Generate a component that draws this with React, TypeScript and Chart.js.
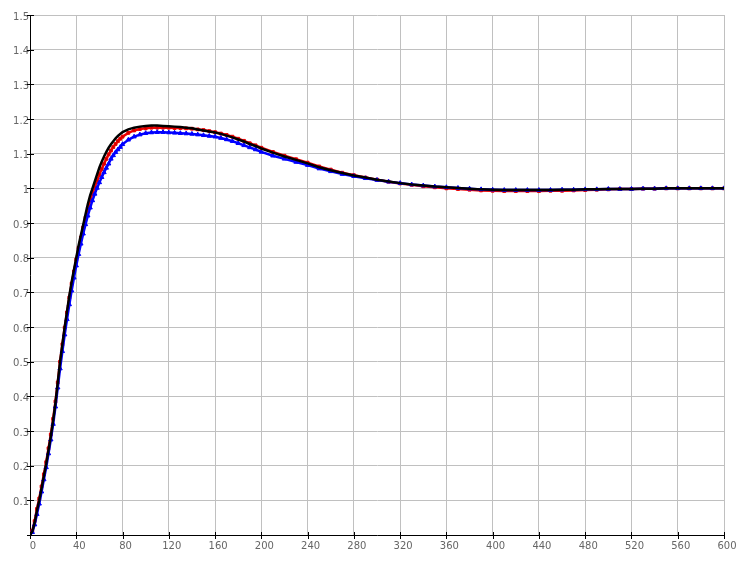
import React, { useEffect, useRef } from "react";
import { Chart, registerables } from "chart.js";

Chart.register(...registerables);

const xValues = [
  0, 2, 4, 6, 8, 10, 12, 14, 16, 18, 20, 22, 24, 26, 28, 30, 32, 34, 36, 38, 40,
  42, 44, 46, 48, 50, 52, 54, 56, 58, 60, 62, 64, 66, 68, 70, 72, 74, 76, 78, 80,
  85, 90, 95, 100, 105, 110, 115, 120, 125, 130, 135, 140, 145, 150, 155, 160,
  165, 170, 175, 180, 185, 190, 195, 200, 210, 220, 230, 240, 250, 260, 270, 280,
  290, 300, 310, 320, 330, 340, 350, 360, 370, 380, 390, 400, 410, 420, 430, 440,
  450, 460, 470, 480, 490, 500, 510, 520, 530, 540, 550, 560, 570, 580, 590, 600,
];

const blackValues = [
  0, 0.01, 0.035, 0.07, 0.1, 0.135, 0.17, 0.205, 0.245, 0.285, 0.33, 0.38, 0.44,
  0.5, 0.55, 0.6, 0.645, 0.69, 0.73, 0.765, 0.8, 0.835, 0.865, 0.895, 0.925,
  0.955, 0.98, 1.0, 1.02, 1.04, 1.06, 1.077, 1.092, 1.105, 1.117, 1.127, 1.136,
  1.144, 1.151, 1.157, 1.162, 1.17, 1.175, 1.178, 1.18, 1.181, 1.181, 1.18,
  1.179, 1.178, 1.177, 1.175, 1.173, 1.17, 1.167, 1.164, 1.161, 1.157, 1.152,
  1.147, 1.141, 1.135, 1.128, 1.122, 1.115, 1.103, 1.092, 1.082, 1.072, 1.061,
  1.052, 1.044, 1.037, 1.031, 1.025, 1.02, 1.015, 1.011, 1.008, 1.005, 1.003,
  1.001, 0.999, 0.997, 0.996, 0.995, 0.995, 0.995, 0.995, 0.995, 0.996, 0.996,
  0.997, 0.997, 0.998, 0.998, 0.998, 0.999, 0.999, 1.0, 1.0, 1.0, 1.0, 1.0, 1.0,
];

const redValues = [
  0, 0.012, 0.04, 0.075, 0.105, 0.14, 0.175, 0.21, 0.25, 0.29, 0.335, 0.385,
  0.44, 0.5, 0.55, 0.598, 0.642, 0.685, 0.725, 0.76, 0.795, 0.828, 0.858, 0.887,
  0.915, 0.942, 0.965, 0.985, 1.004, 1.022, 1.04, 1.056, 1.071, 1.085, 1.098,
  1.109, 1.119, 1.128, 1.136, 1.143, 1.149, 1.16, 1.167, 1.171, 1.173, 1.175,
  1.175, 1.175, 1.175, 1.174, 1.174, 1.173, 1.172, 1.17, 1.168, 1.165, 1.162,
  1.158, 1.154, 1.149, 1.143, 1.137, 1.13, 1.124, 1.117, 1.105, 1.094, 1.084,
  1.074, 1.063, 1.054, 1.045, 1.038, 1.031, 1.025, 1.019, 1.014, 1.01, 1.006,
  1.003, 1.0, 0.998, 0.996, 0.994, 0.993, 0.992, 0.992, 0.992, 0.992, 0.993,
  0.993, 0.994, 0.995, 0.996, 0.997, 0.998, 0.998, 0.999, 0.999, 1.0, 1.0, 1.0,
  1.0, 1.0, 1.0,
];

const blueValues = [
  0, 0.008, 0.03, 0.06, 0.09, 0.125, 0.16, 0.195, 0.235, 0.275, 0.32, 0.37,
  0.425, 0.48, 0.53, 0.578, 0.622, 0.665, 0.705, 0.742, 0.777, 0.81, 0.84, 0.869,
  0.896, 0.921, 0.944, 0.965, 0.984, 1.001, 1.017, 1.032, 1.046, 1.059, 1.071,
  1.085, 1.095, 1.104, 1.112, 1.119, 1.127, 1.14, 1.149, 1.155, 1.159, 1.161,
  1.162, 1.162, 1.161, 1.16, 1.159, 1.158, 1.157, 1.155, 1.153, 1.151, 1.149,
  1.145, 1.141, 1.136, 1.13, 1.124, 1.118, 1.112, 1.105, 1.094, 1.085, 1.076,
  1.067, 1.057, 1.049, 1.041, 1.035, 1.029, 1.024, 1.019, 1.015, 1.011, 1.008,
  1.005, 1.003, 1.001, 0.999, 0.997, 0.996, 0.995, 0.995, 0.995, 0.995, 0.995,
  0.996, 0.996, 0.997, 0.997, 0.998, 0.998, 0.998, 0.999, 0.999, 1.0, 1.0, 1.0,
  1.0, 1.0, 1.0,
];

const xTickStep = 40;
const yTickStep = 0.1;

const toPoints = (ys: number[]) => xValues.map((x, i) => ({ x, y: ys[i] }));

const axisTicksPlugin = {
  id: "axisTicks",
  afterDraw(chart: any) {
    const ctx = chart.ctx;
    const xs = chart.scales.x;
    const ys = chart.scales.y;
    ctx.save();
    ctx.strokeStyle = "#000";
    ctx.lineWidth = 1;
    ctx.beginPath();
    ys.ticks.forEach((t: any) => {
      const py = Math.round(ys.getPixelForValue(t.value)) + 0.5;
      ctx.moveTo(ys.right - 3, py);
      ctx.lineTo(ys.right + 4, py);
    });
    xs.ticks.forEach((t: any) => {
      const px = Math.round(xs.getPixelForValue(t.value)) + 0.5;
      ctx.moveTo(px, xs.top - 3);
      ctx.lineTo(px, xs.top + 4);
    });
    ctx.stroke();
    ctx.restore();
  },
};

export default function App() {
  const ref = useRef<HTMLCanvasElement | null>(null);
  useEffect(() => {
    if (!ref.current) return;
    const chart = new Chart(ref.current, {
      type: "line",
      data: {
        datasets: [
          {
            label: "black",
            data: toPoints(blackValues),
            borderColor: "#000000",
            backgroundColor: "#000000",
            borderWidth: 2.5,
            pointRadius: 0,
            tension: 0,
          },
          {
            label: "blue",
            data: toPoints(blueValues),
            borderColor: "#0000ff",
            backgroundColor: "#0000ff",
            borderWidth: 2.5,
            pointStyle: "triangle",
            pointRadius: 2.5,
            pointBorderWidth: 1,
            tension: 0,
          },
          {
            label: "red",
            data: toPoints(redValues),
            borderColor: "#ee0000",
            backgroundColor: "#cc0000",
            borderWidth: 2.5,
            pointStyle: "rect",
            pointRadius: 2,
            pointBorderWidth: 1,
            tension: 0,
          },
        ],
      },
      options: {
        animation: false,
        responsive: false,
        maintainAspectRatio: false,
        layout: { padding: { top: 15, right: 18, left: 0, bottom: 0 } },
        plugins: {
          legend: { display: false },
          tooltip: { enabled: false },
        },
        scales: {
          x: {
            type: "linear",
            min: 0,
            max: 600,
            afterFit: (s: any) => {
              s.height = 31;
            },
            ticks: {
              stepSize: xTickStep,
              color: "#666",
              padding: 5,
              labelOffset: 3,
              font: { family: "DejaVu Sans", size: 10 },
              callback: (v: any) => String(v),
            },
            grid: { color: "#c0c0c0", lineWidth: 1, drawTicks: false },
            border: { color: "#000", width: 1 },
          },
          y: {
            type: "linear",
            min: 0,
            max: 1.5,
            afterFit: (s: any) => {
              s.width = 30;
            },
            ticks: {
              stepSize: yTickStep,
              color: "#666",
              padding: 1,
              labelOffset: 2,
              font: { family: "DejaVu Sans", size: 10 },
              callback: (v: any) => {
                const n = Math.round(Number(v) * 10) / 10;
                if (n === 0) return "";
                return Number.isInteger(n) ? String(n) : n.toFixed(1);
              },
            },
            grid: { color: "#c0c0c0", lineWidth: 1, drawTicks: false },
            border: { color: "#000", width: 1 },
          },
        },
      },
      plugins: [axisTicksPlugin],
    });
    return () => chart.destroy();
  }, []);
  return (
    <div style={{ position: "fixed", left: 0, top: 0, width: 742, height: 566, background: "#fff" }}>
      <canvas ref={ref} width={742} height={566} />
    </div>
  );
}
